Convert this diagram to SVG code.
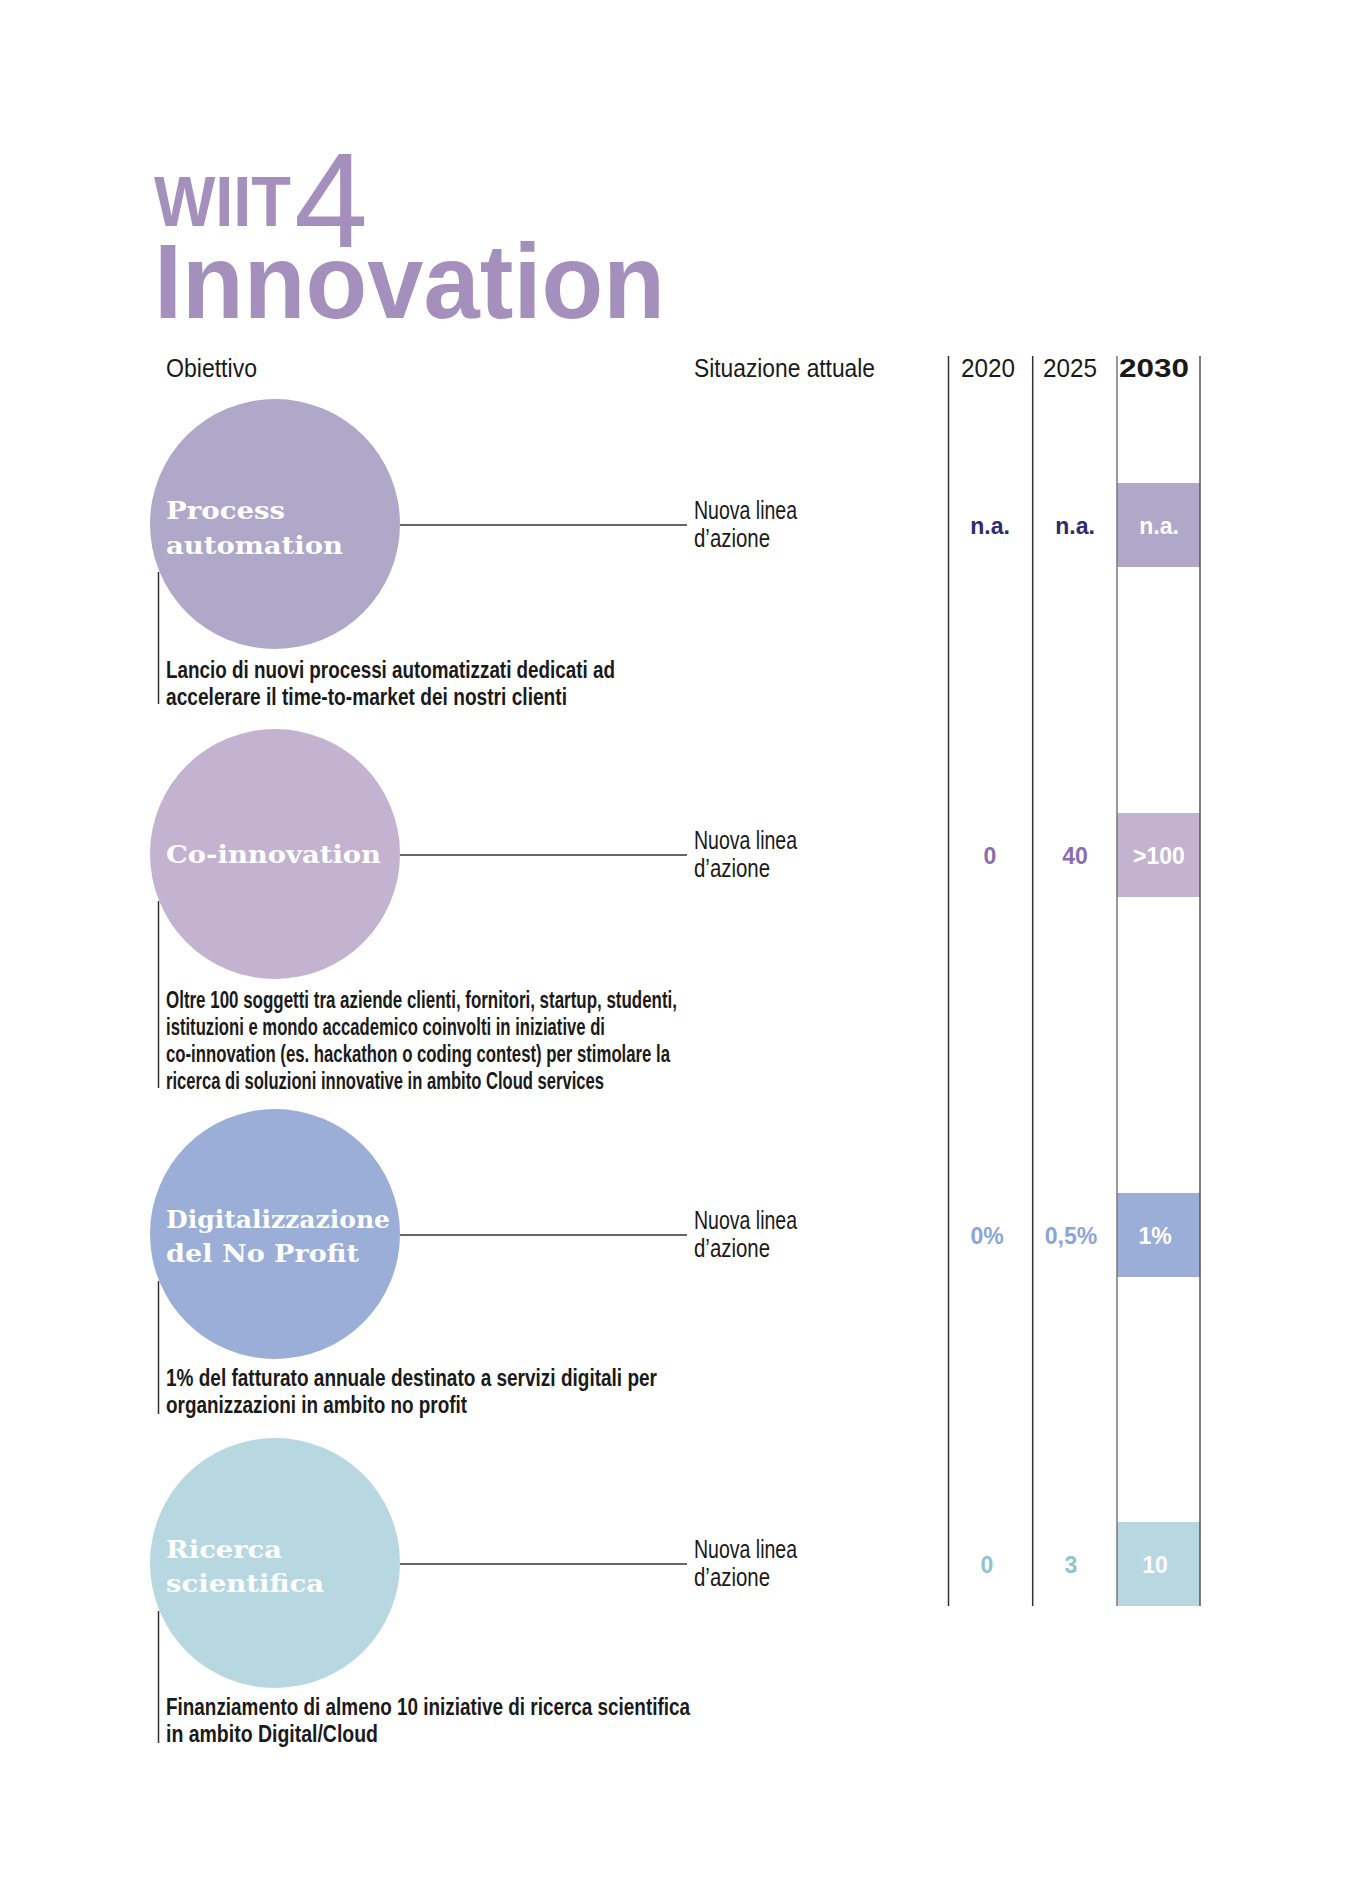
<svg xmlns="http://www.w3.org/2000/svg" width="1358" height="1890" viewBox="0 0 1358 1890">
<style>
.h{font-family:"Liberation Sans",Arial,sans-serif;font-size:26px;fill:#1a1a1a}
.d{font-family:"Liberation Sans",Arial,sans-serif;font-size:23px;font-weight:bold;fill:#1a1a1a}
.s{font-family:"Liberation Sans",Arial,sans-serif;font-size:25px;fill:#1a1a1a}
.t{font-family:"DejaVu Serif",serif;font-size:25px;font-weight:bold;fill:#fff}
.v{font-family:"Liberation Sans",Arial,sans-serif;font-size:23px;font-weight:bold;text-anchor:middle}
.ln{stroke:#333;stroke-width:1.5;fill:none}
</style>
<rect width="1358" height="1890" fill="#fff"/>
<g id="title" fill="#a58fbc" font-family="Liberation Sans,Arial,sans-serif">
<text x="154" y="226" font-size="70" font-weight="bold" textLength="137" lengthAdjust="spacingAndGlyphs">WIIT</text>
<text x="294" y="247" font-size="135" textLength="74" lengthAdjust="spacingAndGlyphs">4</text>
<text x="154" y="318" font-size="106" font-weight="bold" textLength="511" lengthAdjust="spacingAndGlyphs">Innovation</text>
</g>
<g id="headers">
<text class="h" x="166" y="377" textLength="91" lengthAdjust="spacingAndGlyphs">Obiettivo</text>
<text class="h" x="694" y="377" textLength="181" lengthAdjust="spacingAndGlyphs">Situazione attuale</text>
<text class="h" x="961" y="377" textLength="54" lengthAdjust="spacingAndGlyphs">2020</text>
<text class="h" x="1043" y="377" textLength="54" lengthAdjust="spacingAndGlyphs">2025</text>
<text class="h" x="1119" y="377" font-weight="bold" textLength="70" lengthAdjust="spacingAndGlyphs" fill="#000">2030</text>
</g>
<g id="bars">
<rect x="1117" y="483" width="83" height="84" fill="#afa8c9"/>
<rect x="1117" y="813" width="83" height="84" fill="#c3b3d1"/>
<rect x="1117" y="1193" width="83" height="84" fill="#9aaed8"/>
<rect x="1117" y="1522" width="83" height="84" fill="#b7d8e0"/>
</g>
<g id="connectors">
<line class="ln" x1="948.5" y1="356" x2="948.5" y2="1606"/>
<line class="ln" x1="1032.7" y1="356" x2="1032.7" y2="1606"/>
<line x1="1117" y1="356" x2="1117" y2="1606" stroke="#777" stroke-width="1.5"/>
<line x1="1200" y1="356" x2="1200" y2="1606" stroke="#555" stroke-width="1.5"/>
<line class="ln" x1="400" y1="525" x2="687" y2="525"/>
<line class="ln" x1="400" y1="855" x2="687" y2="855"/>
<line class="ln" x1="400" y1="1235" x2="687" y2="1235"/>
<line class="ln" x1="400" y1="1564" x2="687" y2="1564"/>
<line class="ln" x1="158.5" y1="572" x2="158.5" y2="704"/>
<line class="ln" x1="158.5" y1="901" x2="158.5" y2="1088"/>
<line class="ln" x1="158.5" y1="1281" x2="158.5" y2="1414"/>
<line class="ln" x1="158.5" y1="1611" x2="158.5" y2="1743"/>
</g>
<g id="n1" transform="translate(0,2)">
<circle cx="275" cy="522" r="125" fill="#afa8c9"/>
<text class="t" x="166" y="517" textLength="119" lengthAdjust="spacingAndGlyphs">Process</text>
<text class="t" x="166" y="552" textLength="177" lengthAdjust="spacingAndGlyphs">automation</text>
<text class="s" x="694" y="517" textLength="103" lengthAdjust="spacingAndGlyphs">Nuova linea</text>
<text class="s" x="694" y="545" textLength="76" lengthAdjust="spacingAndGlyphs">d’azione</text>
<text class="d" x="166" y="676" textLength="449" lengthAdjust="spacingAndGlyphs">Lancio di nuovi processi automatizzati dedicati ad</text>
<text class="d" x="166" y="703" textLength="401" lengthAdjust="spacingAndGlyphs">accelerare il time-to-market dei nostri clienti</text>
<text class="v" x="990" y="532" fill="#2e2a70">n.a.</text>
<text class="v" x="1075" y="532" fill="#2e2a70">n.a.</text>
<text class="v" x="1159" y="532" fill="#fff">n.a.</text>
</g>
<g id="n2" transform="translate(0,3)">
<circle cx="275" cy="851" r="125" fill="#c3b3d1"/>
<text class="t" x="166" y="860" textLength="215" lengthAdjust="spacingAndGlyphs">Co-innovation</text>
<text class="s" x="694" y="846" textLength="103" lengthAdjust="spacingAndGlyphs">Nuova linea</text>
<text class="s" x="694" y="874" textLength="76" lengthAdjust="spacingAndGlyphs">d’azione</text>
<text class="d" x="166" y="1005" textLength="511" lengthAdjust="spacingAndGlyphs">Oltre 100 soggetti tra aziende clienti, fornitori, startup, studenti,</text>
<text class="d" x="166" y="1032" textLength="439" lengthAdjust="spacingAndGlyphs">istituzioni e mondo accademico coinvolti in iniziative di</text>
<text class="d" x="166" y="1059" textLength="504" lengthAdjust="spacingAndGlyphs">co-innovation (es. hackathon o coding contest) per stimolare la</text>
<text class="d" x="166" y="1086" textLength="438" lengthAdjust="spacingAndGlyphs">ricerca di soluzioni innovative in ambito Cloud services</text>
<text class="v" x="990" y="861" fill="#8a6fb0">0</text>
<text class="v" x="1075" y="861" fill="#8a6fb0">40</text>
<text class="v" x="1159" y="861" fill="#fff">&gt;100</text>
</g>
<g id="n3" transform="translate(0,6)">
<circle cx="275" cy="1228" r="125" fill="#9aaed8"/>
<text class="t" x="166" y="1222" textLength="224" lengthAdjust="spacingAndGlyphs">Digitalizzazione</text>
<text class="t" x="166" y="1256" textLength="193" lengthAdjust="spacingAndGlyphs">del No Profit</text>
<text class="s" x="694" y="1223" textLength="103" lengthAdjust="spacingAndGlyphs">Nuova linea</text>
<text class="s" x="694" y="1251" textLength="76" lengthAdjust="spacingAndGlyphs">d’azione</text>
<text class="d" x="166" y="1380" textLength="491" lengthAdjust="spacingAndGlyphs">1% del fatturato annuale destinato a servizi digitali per</text>
<text class="d" x="166" y="1407" textLength="301" lengthAdjust="spacingAndGlyphs">organizzazioni in ambito no profit</text>
<text class="v" x="987" y="1238" fill="#8aa6d8">0%</text>
<text class="v" x="1071" y="1238" fill="#8aa6d8">0,5%</text>
<text class="v" x="1155" y="1238" fill="#fff">1%</text>
</g>
<g id="n4" transform="translate(0,6)">
<circle cx="275" cy="1557" r="125" fill="#b7d8e0"/>
<text class="t" x="166" y="1552" textLength="116" lengthAdjust="spacingAndGlyphs">Ricerca</text>
<text class="t" x="166" y="1586" textLength="158" lengthAdjust="spacingAndGlyphs">scientifica</text>
<text class="s" x="694" y="1552" textLength="103" lengthAdjust="spacingAndGlyphs">Nuova linea</text>
<text class="s" x="694" y="1580" textLength="76" lengthAdjust="spacingAndGlyphs">d’azione</text>
<text class="d" x="166" y="1709" textLength="524" lengthAdjust="spacingAndGlyphs">Finanziamento di almeno 10 iniziative di ricerca scientifica</text>
<text class="d" x="166" y="1736" textLength="212" lengthAdjust="spacingAndGlyphs">in ambito Digital/Cloud</text>
<text class="v" x="987" y="1567" fill="#8ec3d2">0</text>
<text class="v" x="1071" y="1567" fill="#8ec3d2">3</text>
<text class="v" x="1155" y="1567" fill="#fff">10</text>
</g>
</svg>
